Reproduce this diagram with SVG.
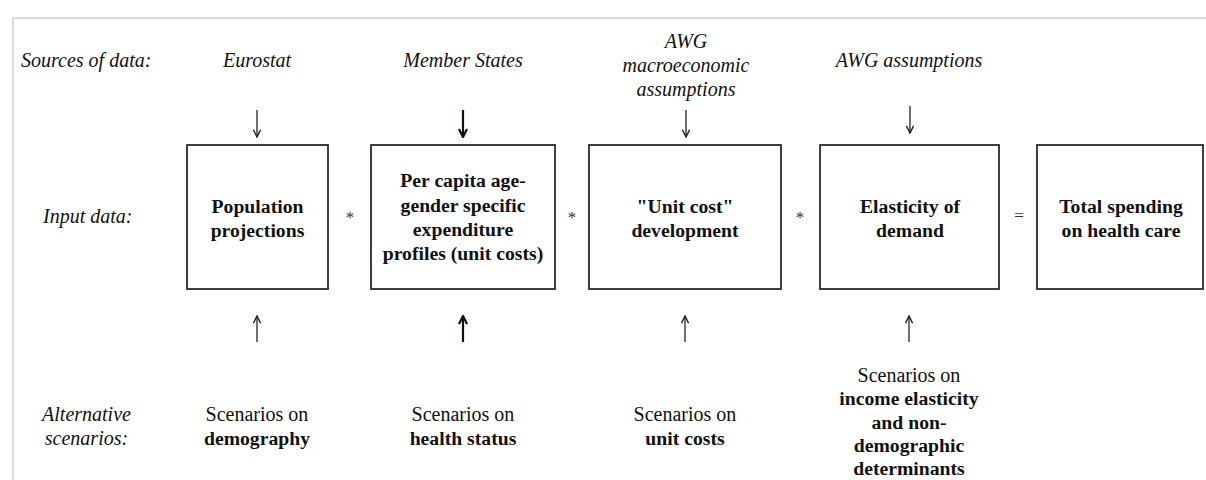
<svg xmlns="http://www.w3.org/2000/svg" width="1206" height="480" viewBox="0 0 1206 480" font-family="'Liberation Serif', 'Times New Roman', 'DejaVu Serif', serif">
<style>
text{font-family:'Liberation Serif','Times New Roman','DejaVu Serif',serif}
.lbl{font-style:italic;font-size:20px;fill:#111}
.src{font-style:italic;font-size:20px;fill:#111;text-anchor:middle}
.box{fill:#fff;stroke:#2b2b2b;stroke-width:1.8}
.bt{font-weight:bold;font-size:19.7px;fill:#111;text-anchor:middle}
.sc{font-size:20px;fill:#111;text-anchor:middle}
.op{font-size:17px;fill:#333;text-anchor:middle}
.arr{stroke:#222;stroke-width:1.3;fill:none}
.arrb{stroke:#1a0d08;stroke-width:2.2;fill:none}
</style>
<defs>
<marker id="head" viewBox="0 0 10 10" refX="9" refY="5" markerWidth="9" markerHeight="9" markerUnits="userSpaceOnUse" orient="auto">
<path d="M1,1 L9,5 L1,9" fill="none" stroke="#222" stroke-width="1.6"/>
</marker>
<marker id="headb" viewBox="0 0 10 10" refX="9" refY="5" markerWidth="10" markerHeight="10" markerUnits="userSpaceOnUse" orient="auto">
<path d="M1,1 L9,5 L1,9" fill="none" stroke="#1a0d08" stroke-width="2.2"/>
</marker>
</defs>
<rect width="1206" height="480" fill="#fff"/>
<path d="M13,480 L13,18 L1206,18" fill="none" stroke="#dcdcdc" stroke-width="2"/>

<g id="row-labels">
<text class="lbl" x="21" y="67">Sources of data:</text>
<text class="lbl" x="43" y="223">Input data:</text>
<text class="lbl" x="86.5" y="421" text-anchor="middle">Alternative</text>
<text class="lbl" x="86.5" y="445" text-anchor="middle">scenarios:</text>
</g>

<g id="sources">
<text class="src" x="257" y="67">Eurostat</text>
<text class="src" x="463" y="67">Member States</text>
<text class="src" x="686" y="48">AWG</text>
<text class="src" x="686" y="72">macroeconomic</text>
<text class="src" x="686" y="96">assumptions</text>
<text class="src" x="909" y="67">AWG assumptions</text>
</g>

<g id="connectors">
<line class="arr" x1="257" y1="110" x2="257" y2="137" marker-end="url(#head)"/>
<line class="arrb" x1="463" y1="110" x2="463" y2="137" marker-end="url(#headb)"/>
<line class="arr" x1="686" y1="110" x2="686" y2="137" marker-end="url(#head)"/>
<line class="arr" x1="910" y1="106" x2="910" y2="133" marker-end="url(#head)"/>
<line class="arr" x1="257" y1="342" x2="257" y2="316" marker-end="url(#head)"/>
<line class="arrb" x1="463" y1="342" x2="463" y2="316" marker-end="url(#headb)"/>
<line class="arr" x1="685" y1="342" x2="685" y2="316" marker-end="url(#head)"/>
<line class="arr" x1="909" y1="342" x2="909" y2="316" marker-end="url(#head)"/>
</g>

<g id="operators">
<text class="op" x="350" y="223">*</text>
<text class="op" x="572" y="223">*</text>
<text class="op" x="800" y="223">*</text>
<text class="op" x="1019" y="221" font-size="19">=</text>
</g>

<g id="node-population">
<rect class="box" x="187" y="145" width="141" height="144"/>
<text class="bt" x="257.5" y="213">Population</text>
<text class="bt" x="257.5" y="237">projections</text>
</g>
<g id="node-profiles">
<rect class="box" x="371" y="145" width="184" height="144"/>
<text class="bt" x="463" y="187">Per capita age-</text>
<text class="bt" x="463" y="212">gender specific</text>
<text class="bt" x="463" y="236">expenditure</text>
<text class="bt" x="463" y="260">profiles (unit costs)</text>
</g>
<g id="node-unitcost">
<rect class="box" x="589" y="145" width="192" height="144"/>
<text class="bt" x="685" y="213">"Unit cost"</text>
<text class="bt" x="685" y="237">development</text>
</g>
<g id="node-elasticity">
<rect class="box" x="820" y="145" width="179" height="144"/>
<text class="bt" x="910" y="213">Elasticity of</text>
<text class="bt" x="910" y="237">demand</text>
</g>
<g id="node-total">
<rect class="box" x="1037" y="145" width="166" height="144"/>
<text class="bt" x="1121" y="213">Total spending</text>
<text class="bt" x="1121" y="237">on health care</text>
</g>

<g id="scenarios">
<text class="sc" x="257" y="421">Scenarios on</text>
<text class="bt" x="257" y="445">demography</text>
<text class="sc" x="463" y="421">Scenarios on</text>
<text class="bt" x="463" y="445">health status</text>
<text class="sc" x="685" y="421">Scenarios on</text>
<text class="bt" x="685" y="445">unit costs</text>
<text class="sc" x="909" y="382">Scenarios on</text>
<text class="bt" x="909" y="405">income elasticity</text>
<text class="bt" x="909" y="429">and non-</text>
<text class="bt" x="909" y="452">demographic</text>
<text class="bt" x="909" y="475">determinants</text>
</g>
</svg>
